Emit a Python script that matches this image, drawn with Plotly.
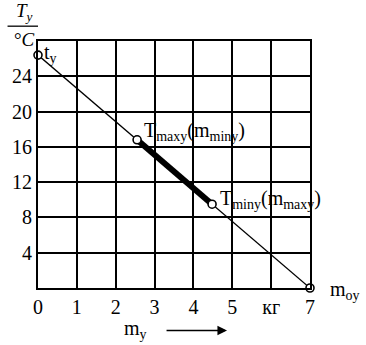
import plotly.graph_objects as go

# Data
mass_line = [0, 7]          # kg
temp_line = [26.4, 0]       # °C
m_segment = [2.55, 4.48]    # m_miny, m_maxy
t_segment = [16.8, 9.5]     # T_maxy, T_miny
x_ticks = [0, 1, 2, 3, 4, 5, 6, 7]
x_tick_text = ["0", "1", "2", "3", "4", "5", "кг", "7"]
y_ticks = [4, 8, 12, 16, 20, 24]
y_tick_text = ["4", "8", "12", "16", "20", "24"]

FONT = "Liberation Serif, Times New Roman, serif"

fig = go.Figure()
fig.add_trace(go.Scatter(x=mass_line, y=temp_line, mode="lines",
                         line=dict(color="black", width=1.3), hoverinfo="skip"))
fig.add_trace(go.Scatter(x=m_segment, y=t_segment, mode="lines",
                         line=dict(color="black", width=6), hoverinfo="skip"))
fig.add_trace(go.Scatter(x=[mass_line[0], m_segment[0], m_segment[1], mass_line[1]],
                         y=[temp_line[0], t_segment[0], t_segment[1], temp_line[1]],
                         mode="markers",
                         marker=dict(size=8, color="white", line=dict(color="black", width=1.6)),
                         hoverinfo="skip", cliponaxis=False))

ann_font = dict(family=FONT, size=20, color="black")
title_font = dict(family=FONT, size=19, color="black")
annotations = [
    dict(x=mass_line[0], y=temp_line[0], xref="x", yref="y", text="t<sub>y</sub>",
         showarrow=False, xanchor="left", yanchor="middle", xshift=4, yshift=2, font=ann_font),
    dict(x=m_segment[0], y=t_segment[0], xref="x", yref="y",
         text="T<sub>maxy</sub>(m<sub>miny</sub>)",
         showarrow=False, xanchor="left", yanchor="middle", xshift=5, yshift=8, font=ann_font),
    dict(x=m_segment[1], y=t_segment[1], xref="x", yref="y",
         text="T<sub>miny</sub>(m<sub>maxy</sub>)",
         showarrow=False, xanchor="left", yanchor="middle", xshift=6, yshift=5, font=ann_font),
    dict(x=mass_line[1], y=temp_line[1], xref="x", yref="y", text="m<sub>oy</sub>",
         showarrow=False, xanchor="left", yanchor="middle", xshift=18, yshift=-2, font=ann_font),
    # y-axis title as fraction
    dict(x=-0.05, y=1.062, xref="paper", yref="paper", text="<i>T</i><sub><i>y</i></sub>",
         showarrow=False, xanchor="center", yanchor="bottom", font=title_font),
    dict(x=-0.05, y=1.056, xref="paper", yref="paper", text="°<i>C</i>",
         showarrow=False, xanchor="center", yanchor="top", font=title_font),
    # m_y with arrow
    dict(x=0.36, y=-0.168, xref="paper", yref="paper", text="m<sub>y</sub>",
         showarrow=False, xanchor="center", yanchor="middle", font=ann_font),
    dict(x=0.695, y=-0.172, xref="paper", yref="paper", ax=-62, ay=0, text="",
         showarrow=True, arrowhead=2, arrowsize=1.2, arrowwidth=1.6, arrowcolor="black"),
]

fig.update_layout(
    width=366, height=345,
    margin=dict(l=34, r=56, t=41, b=57),
    paper_bgcolor="white", plot_bgcolor="white",
    showlegend=False,
    font=dict(family=FONT, size=20, color="black"),
    annotations=annotations,
    shapes=[dict(type="line", xref="paper", yref="paper", x0=-0.112, x1=0.0, y0=1.06, y1=1.06,
                 line=dict(color="black", width=1.3))],
    xaxis=dict(range=[0, 7], tickvals=x_ticks, ticktext=x_tick_text,
               showgrid=True, gridcolor="black", gridwidth=1.8,
               showline=True, mirror=True, linecolor="black", linewidth=1.8,
               zeroline=False, ticks="", tickfont=dict(family=FONT, size=20)),
    yaxis=dict(range=[0, 28], tickvals=y_ticks, ticktext=y_tick_text,
               showgrid=True, gridcolor="black", gridwidth=1.8,
               showline=True, mirror=True, linecolor="black", linewidth=1.8,
               zeroline=False, ticks="", tickfont=dict(family=FONT, size=20)),
)

fig.write_html("out.html")
